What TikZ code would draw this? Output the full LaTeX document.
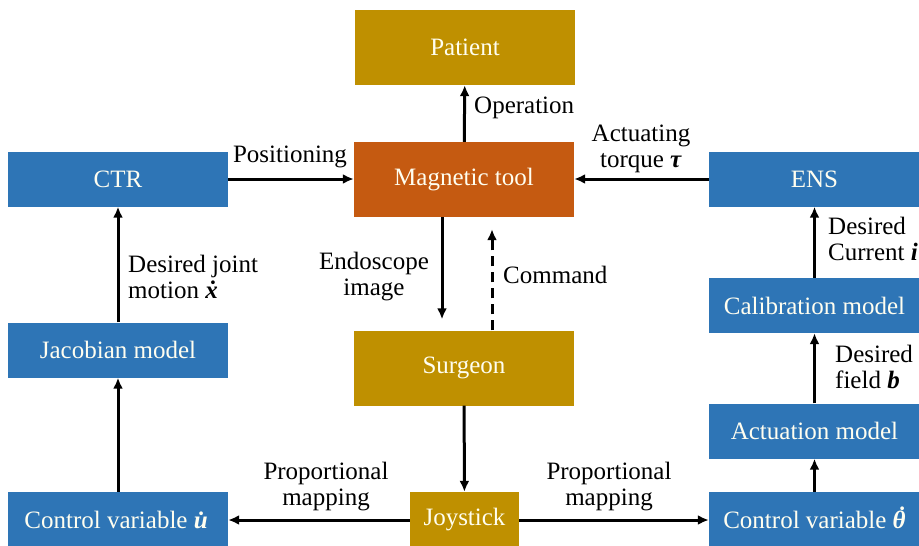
\documentclass[tikz,border=0pt]{standalone}
\usepackage{fontspec}
\setmainfont{Liberation Serif}
\usetikzlibrary{positioning,arrows.meta}
\definecolor{boxblue}{HTML}{2E75B6}
\definecolor{boxgold}{HTML}{BF9000}
\definecolor{boxorange}{HTML}{C55A11}
\newcommand{\bv}[1]{\textbf{\textit{#1}}}
\newcommand{\dotth}{\ooalign{\bv{θ}\cr\hidewidth\kern0.12em\raisebox{0.16em}{\bv{\char"02D9}}\hidewidth\cr}}

\begin{document}
\begin{tikzpicture}[x=1pt,y=-1pt,
  font=\fontsize{25}{29}\selectfont,
  box/.style={minimum width=220pt,minimum height=55pt,inner sep=0pt,
    text=white!94!yellow,align=center},
  bluebox/.style={box,fill=boxblue},
  goldbox/.style={box,fill=boxgold,minimum height=75pt},
  arr/.style={-{Latex[length=11pt,width=10pt]},line width=3pt},
  lbl/.style={inner sep=2pt,align=center}]
\useasboundingbox (0,0) rectangle (919,546);
% top and centre column
\node[goldbox] (patient) at (465,47.5) {Patient};
\node[goldbox,fill=boxorange] (tool) at (464,179.5) {Magnetic tool};
\node[goldbox] (surgeon) at (464,368) {Surgeon};
\node[goldbox,minimum width=109pt,minimum height=56pt] (joy) at (464.5,520) {Joystick};
% left column
\node[bluebox] (ctr)   at (118,179) {CTR};
\node[bluebox] (jac)   at (118,350) {Jacobian model};
\node[bluebox,minimum height=56pt] (ctrlu) at (118,520) {Control variable \bv{\.{u}}};
% right column
\node[bluebox,minimum width=211pt] (ens)    at (814.5,179) {ENS};
\node[bluebox,minimum width=211pt] (calib)  at (814.5,305.5) {Calibration model};
\node[bluebox,minimum width=211pt] (act)    at (814.5,431) {Actuation model};
\node[bluebox,minimum width=211pt,minimum height=56pt] (ctrlth) at (814.5,520)
  {Control variable \dotth};

% connectors
\draw[arr] (tool) -- (patient);
\node[lbl,anchor=west] (oplbl) at (472,108) {Operation};
\draw[arr] (ctr.east) -- (ctr.east -| tool.west);
\node[lbl] (poslbl) at (290,157) {Positioning};
\draw[arr] (ens.west) -- (ens.west -| tool.east);
\node[lbl] (torlbl) at (641,149) {Actuating\\[-3pt]torque \bv{τ}};
\draw[arr] ([xshift=-22pt]tool.south) -- ([xshift=-22pt,yshift=11pt]surgeon.north);
\node[lbl] (endlbl) at (374,277) {Endoscope\\[-3pt]image};
\draw[arr,dash pattern=on 10pt off 6pt] ([xshift=28pt]surgeon.north)
  -- ([xshift=28pt,yshift=-12pt]tool.south);
\node[lbl,anchor=west] (cmdlbl) at (501,275) {Command};
\draw[arr] (surgeon) -- (joy);
\draw[arr] (joy) -- (ctrlu);
\node[lbl] (maplbl1) at (326,487) {Proportional\\[-3pt]mapping};
\draw[arr] (joy) -- (ctrlth);
\node[lbl] (maplbl2) at (609,487) {Proportional\\[-3pt]mapping};
\draw[arr] (ctrlu) -- (jac);
\draw[arr] (jac) -- (ctr);
\node[lbl,anchor=west,align=left] (jntlbl) at (126,277) {Desired joint\\[-3pt]motion \bv{\.{x}}};
\draw[arr] (ctrlth) -- (act);
\draw[arr] (act) -- (calib);
\node[lbl,anchor=west,align=left] (fldlbl) at (833,367) {Desired\\[-3pt]field \bv{b}};
\draw[arr] (calib) -- (ens);
\node[lbl,anchor=west,align=left] (curlbl) at (826,239) {Desired\\[-3pt]Current \bv{i}};
\end{tikzpicture}
\end{document}
